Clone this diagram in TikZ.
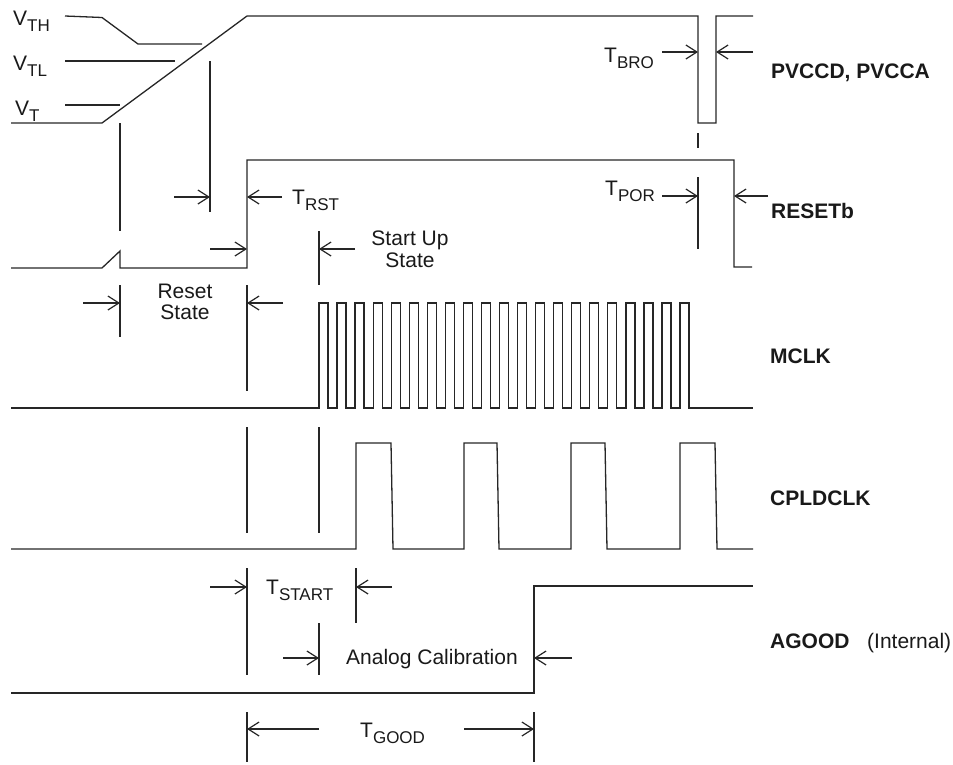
\documentclass[tikz,border=0pt]{standalone}
\usepackage{fontspec}
\setmainfont{Liberation Sans}
\usetikzlibrary{arrows.meta}
\newcommand\lo[1]{\raisebox{-6.5pt}{\fontsize{17pt}{17pt}\selectfont #1}}
\begin{document}
\begin{tikzpicture}[x=1pt,y=-1pt,
  wave/.style={line width=1.3pt,line join=miter,color=black!85},
  guide/.style={line width=1.3pt,color=black!85},
  dim/.style={line width=1.2pt,color=black!85,-{Straight Barb[length=11pt,width=14pt,line width=1.2pt]}},
  txt/.style={inner sep=0pt,anchor=base west,font=\fontsize{21pt}{25pt}\selectfont,color=black!90},
  lbl/.style={txt,font=\fontsize{21pt}{25pt}\selectfont\bfseries},
  ctxt/.style={inner sep=0pt,anchor=base,font=\fontsize{21pt}{25pt}\selectfont,color=black!90}]
\useasboundingbox (0,0) rectangle (953,764);
% ---- threshold labels
\node[txt] (vth) at (13,25) {V\lo{TH}};
\node[txt] (vtl) at (13,70) {V\lo{TL}};
\node[txt] (vt) at (15,115) {V\lo{T}};
\draw[guide] (65,16) -- (102,17.5) -- (138,44) -- (202,44);
\draw[guide] (65,61) -- (175,61);
\draw[guide] (65,105) -- (120,105);
% ---- PVCC
\draw[wave] (11,123) -- (102,123) -- (247,16) -- (698,16) -- (698,123) -- (716,123) -- (716,16) -- (753,16);
% ---- RESETb
\draw[wave] (11,268) -- (102,268) -- (120,251) -- (120,268) -- (247,268) -- (247,160) -- (734,160) -- (734,267) -- (752,267);
% ---- MCLK
\draw[wave] (11,408) -- (319,408)
  \foreach \i in {0,...,20} { -- ++(0,-105) -- ++(9,0) -- ++(0,105) -- ++(9.05,0) }
  -- (753,408);
% ---- CPLDCLK
\draw[wave] (11,549) -- (356,549) -- (356,443) -- (391,443) -- (393,549)
  -- (464,549) -- (464,443) -- (497,443) -- (499,549)
  -- (571,549) -- (571,443) -- (605,443) -- (607,549)
  -- (680,549) -- (680,443) -- (715,443) -- (717,549) -- (753,549);
% ---- AGOOD
\draw[wave] (11,693) -- (534,693) -- (534,586) -- (753,586);
% ---- vertical guide lines
\draw[guide] (120,123) -- (120,231);
\draw[guide] (120,285) -- (120,337);
\draw[guide] (210,61) -- (210,212);
\draw[guide] (247,285) -- (247,391);
\draw[guide] (247,427) -- (247,533);
\draw[guide] (247,568) -- (247,675);
\draw[guide] (247,712) -- (247,762);
\draw[guide] (319,231) -- (319,285);
\draw[guide] (319,427) -- (319,533);
\draw[guide] (319,623) -- (319,675);
\draw[guide] (356,568) -- (356,623);
\draw[guide] (534,712) -- (534,762);
\draw[guide] (698,133) -- (698,148);
\draw[guide] (698,177) -- (698,249);
% ---- dimension arrows
\coordinate (a1) at (662,52); \coordinate (a2) at (698,52);
\coordinate (a3) at (753,52); \coordinate (a4) at (716,52);
\draw[dim] (a1) -- (a2); \draw[dim] (a3) -- (a4);
\coordinate (b1) at (174,197); \coordinate (b2) at (210,197);
\coordinate (b3) at (282,197); \coordinate (b4) at (247,197);
\draw[dim] (b1) -- (b2); \draw[dim] (b3) -- (b4);
\coordinate (c1) at (662,196); \coordinate (c2) at (698,196);
\coordinate (c3) at (768,196); \coordinate (c4) at (734,196);
\draw[dim] (c1) -- (c2); \draw[dim] (c3) -- (c4);
\coordinate (d1) at (210,249); \coordinate (d2) at (247,249);
\coordinate (d3) at (355,249); \coordinate (d4) at (319,249);
\draw[dim] (d1) -- (d2); \draw[dim] (d3) -- (d4);
\coordinate (e1) at (83,303); \coordinate (e2) at (120,303);
\coordinate (e3) at (283,303); \coordinate (e4) at (247,303);
\draw[dim] (e1) -- (e2); \draw[dim] (e3) -- (e4);
\coordinate (f1) at (210,587); \coordinate (f2) at (247,587);
\coordinate (f3) at (392,587); \coordinate (f4) at (356,587);
\draw[dim] (f1) -- (f2); \draw[dim] (f3) -- (f4);
\coordinate (g1) at (283,658); \coordinate (g2) at (319,658);
\coordinate (g3) at (572,658); \coordinate (g4) at (534,658);
\draw[dim] (g1) -- (g2); \draw[dim] (g3) -- (g4);
\coordinate (h1) at (319,729); \coordinate (h2) at (247,729);
\coordinate (h3) at (464,729); \coordinate (h4) at (534,729);
\draw[dim] (h1) -- (h2); \draw[dim] (h3) -- (h4);
% ---- timing labels
\node[txt] (tbro) at (604,62) {T\lo{BRO}};
\node[txt] (trst) at (292,204) {T\lo{RST}};
\node[txt] (tpor) at (605,195) {T\lo{POR}};
\node[ctxt] (startup1) at (410,245) {Start Up};
\node[ctxt] (startup2) at (410,267) {State};
\node[ctxt] (reset1) at (185,298) {Reset};
\node[ctxt] (reset2) at (185,319) {State};
\node[txt] (tstart) at (266,594) {T\lo{START}};
\node[txt] (analog) at (346,664) {Analog Calibration};
\node[txt] (tgood) at (360,737) {T\lo{GOOD}};
% ---- signal names
\node[lbl] (lpv) at (771,78) {PVCCD, PVCCA};
\node[lbl] (lres) at (771,218) {RESETb};
\node[lbl] (lmclk) at (770,363) {MCLK};
\node[lbl] (lcpld) at (770,505) {CPLDCLK};
\node[lbl] (lagood) at (770,648) {AGOOD};
\node[txt] (lint) at (867,648) {(Internal)};
\end{tikzpicture}
\end{document}
